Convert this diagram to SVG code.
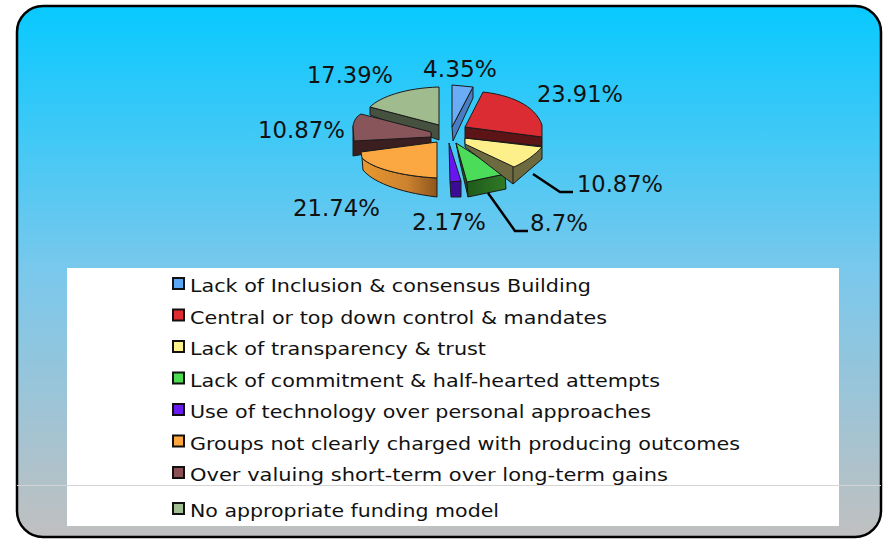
<svg xmlns="http://www.w3.org/2000/svg" width="884" height="540" viewBox="0 0 884 540">
<defs>
<linearGradient id="bg" x1="0" y1="0" x2="0" y2="1">
<stop offset="0" stop-color="#08c9ff"/>
<stop offset="0.5" stop-color="#7ac8ec"/>
<stop offset="1" stop-color="#c0c0c0"/>
</linearGradient>
<linearGradient id="orSide" x1="0" y1="0" x2="1" y2="0">
<stop offset="0" stop-color="#e8982e"/>
<stop offset="0.6" stop-color="#cc8230"/>
<stop offset="1" stop-color="#8e561c"/>
</linearGradient>
<linearGradient id="grSide" x1="0" y1="0" x2="1" y2="0">
<stop offset="0" stop-color="#1f5a1a"/>
<stop offset="1" stop-color="#2f7a26"/>
</linearGradient>
<style>
.s{stroke:#1a1a1a;stroke-width:1;stroke-linejoin:round}
.lbl{font-family:"DejaVu Sans","Verdana",sans-serif;font-size:22.5px;fill:#111}
.lg{font-family:"DejaVu Sans","Verdana",sans-serif;font-size:18.5px;fill:#111}
.sw{stroke:#111;stroke-width:2}
.lead{fill:none;stroke:#000;stroke-width:2.5}
</style>
</defs>
<rect x="17" y="6" width="864" height="531" rx="26" fill="url(#bg)" stroke="#000" stroke-width="2.5"/>
<rect x="67" y="268" width="772" height="258" fill="#fff"/>
<line x1="17" y1="485.5" x2="881" y2="485.5" stroke="#d4d4d4" stroke-width="1.2"/>

<g id="pie">
<g id="slice-sage">
<path class="s" d="M370,107 L439,125 L439,140 L370,115 Z" fill="#47513f"/>
<path class="s" d="M439,87 L439,125 L370,107 C380,97 405,88 439,87 Z" fill="#a0bb8e"/>
</g>
<g id="slice-mauve">
<path class="s" d="M353,126 L353,156 L431,143 L431,133 Z" fill="#3a1e20"/>
<path class="s" d="M361,114 L431,132 L431,137 L354,141 L353,126 C354,120 357,116 361,114 Z" fill="#88565a"/>
</g>
<g id="slice-orange">
<path class="s" d="M362,158 L363,170 C372,181 396,192 437,197 L437,178 C400,176 372,168 362,158 Z" fill="url(#orSide)"/>
<path class="s" d="M361,152 L437,142 L437,178 C400,176 372,168 362,158 Z" fill="#fba843"/>
</g>
<g id="slice-purple">
<path class="s" d="M450,182 L461,181 L461,197 L451,197 Z" fill="#3a0c98"/>
<path class="s" d="M449,143 L461,181 L450,182 Z" fill="#6a14f2"/>
</g>
<g id="slice-green">
<path class="s" d="M456,143 L467,182 L468,197 L459,158 Z" fill="#1f5a1a"/>
<path class="s" d="M467,182 L505,174 L506,189 L468,197 Z" fill="url(#grSide)"/>
<path class="s" d="M456,143 L505,174 L467,182 Z" fill="#4bdc5a"/>
</g>
<g id="slice-yellow">
<path class="s" d="M465,138 L465,147 L513,184 L542,159 L542,146 Z" fill="#6c6a3e"/>
<path class="s" d="M513,167 L513,184" fill="none"/>
<path class="s" d="M465,138 L542,147 C535,155 525,162 514,167 L465,144 Z" fill="#fdf08a"/>
</g>
<g id="slice-red">
<path class="s" d="M465,127 L542,137 L542,146 L465,138 Z" fill="#5c1416"/>
<path class="s" d="M483,92 C510,95 535,105 542,125 L542,137 L465,127 Z" fill="#dc2c33"/>
</g>
<g id="slice-blue">
<path class="s" d="M473,87 L473,98 L453,141 L452,127 Z" fill="#4a7cc4"/>
<path class="s" d="M452,85 L473,87 L452,127 Z" fill="#6aacf6"/>
</g>
</g>

<g id="connectors">
<path class="lead" d="M533,174 L560,192 L573,192"/>
<path class="lead" d="M488,193 L515,231 L528,231"/>
</g>

<g id="labels">
<text class="lbl" x="307" y="83" textLength="86" lengthAdjust="spacingAndGlyphs">17.39%</text>
<text class="lbl" x="423" y="77" textLength="74" lengthAdjust="spacingAndGlyphs">4.35%</text>
<text class="lbl" x="537" y="102" textLength="86" lengthAdjust="spacingAndGlyphs">23.91%</text>
<text class="lbl" x="258" y="138" textLength="87" lengthAdjust="spacingAndGlyphs">10.87%</text>
<text class="lbl" x="293" y="216" textLength="87" lengthAdjust="spacingAndGlyphs">21.74%</text>
<text class="lbl" x="412" y="230" textLength="74" lengthAdjust="spacingAndGlyphs">2.17%</text>
<text class="lbl" x="577" y="192" textLength="86" lengthAdjust="spacingAndGlyphs">10.87%</text>
<text class="lbl" x="530" y="231" textLength="58" lengthAdjust="spacingAndGlyphs">8.7%</text>
</g>

<g id="legend">
<g id="lg1"><rect class="sw" x="173" y="278" width="11" height="11" fill="#5aa6f4"/><text class="lg" x="190" y="292" textLength="401" lengthAdjust="spacingAndGlyphs">Lack of Inclusion &amp; consensus Building</text></g>
<g id="lg2"><rect class="sw" x="173" y="309.5" width="11" height="11" fill="#e02c30"/><text class="lg" x="190" y="323.5" textLength="417" lengthAdjust="spacingAndGlyphs">Central or top down control &amp; mandates</text></g>
<g id="lg3"><rect class="sw" x="173" y="341" width="11" height="11" fill="#fff38a"/><text class="lg" x="190" y="355" textLength="296" lengthAdjust="spacingAndGlyphs">Lack of transparency &amp; trust</text></g>
<g id="lg4"><rect class="sw" x="173" y="372.5" width="11" height="11" fill="#4cdc50"/><text class="lg" x="190" y="386.5" textLength="470" lengthAdjust="spacingAndGlyphs">Lack of commitment &amp; half-hearted attempts</text></g>
<g id="lg5"><rect class="sw" x="173" y="404" width="11" height="11" fill="#6a1cf0"/><text class="lg" x="190" y="418" textLength="461" lengthAdjust="spacingAndGlyphs">Use of technology over personal approaches</text></g>
<g id="lg6"><rect class="sw" x="173" y="435.5" width="11" height="11" fill="#ffa840"/><text class="lg" x="190" y="449.5" textLength="550" lengthAdjust="spacingAndGlyphs">Groups not clearly charged with producing outcomes</text></g>
<g id="lg7"><rect class="sw" x="173" y="467" width="11" height="11" fill="#8c5056"/><text class="lg" x="190" y="481" textLength="478" lengthAdjust="spacingAndGlyphs">Over valuing short-term over long-term gains</text></g>
<g id="lg8"><rect class="sw" x="173" y="503" width="11" height="11" fill="#a0be90"/><text class="lg" x="190" y="517" textLength="309" lengthAdjust="spacingAndGlyphs">No appropriate funding model</text></g>
</g>
</svg>
